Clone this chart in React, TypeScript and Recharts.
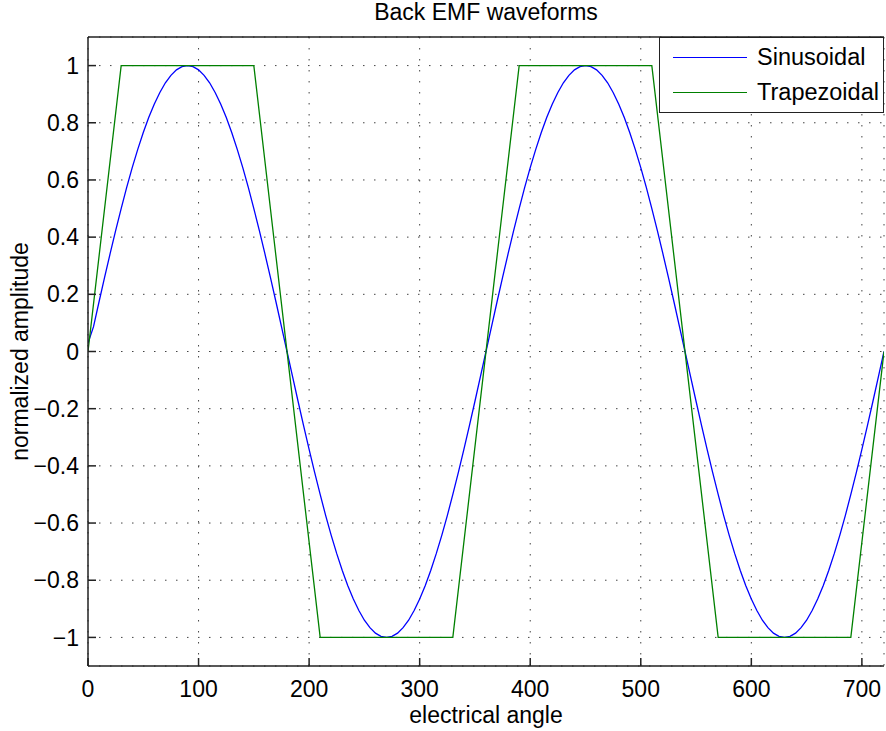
import { CartesianGrid, Legend, Line, LineChart, XAxis, YAxis } from "recharts";

// sampled every 5 degrees
const angles = [
  0, 5, 10, 15, 20, 25, 30, 35, 40, 45, 50, 55, 60, 65, 70, 75, 80, 85,
  90, 95, 100, 105, 110, 115, 120, 125, 130, 135, 140, 145, 150, 155, 160, 165, 170, 175,
  180, 185, 190, 195, 200, 205, 210, 215, 220, 225, 230, 235, 240, 245, 250, 255, 260, 265,
  270, 275, 280, 285, 290, 295, 300, 305, 310, 315, 320, 325, 330, 335, 340, 345, 350, 355,
  360, 365, 370, 375, 380, 385, 390, 395, 400, 405, 410, 415, 420, 425, 430, 435, 440, 445,
  450, 455, 460, 465, 470, 475, 480, 485, 490, 495, 500, 505, 510, 515, 520, 525, 530, 535,
  540, 545, 550, 555, 560, 565, 570, 575, 580, 585, 590, 595, 600, 605, 610, 615, 620, 625,
  630, 635, 640, 645, 650, 655, 660, 665, 670, 675, 680, 685, 690, 695, 700, 705, 710, 715,
  720,
];

const sinusoidal = [
  0.03, 0.087, 0.174, 0.259, 0.342, 0.423, 0.5, 0.574, 0.643, 0.707, 0.766, 0.819, 0.866, 0.906, 0.94, 0.966, 0.985, 0.996,
  1.0, 0.996, 0.985, 0.966, 0.94, 0.906, 0.866, 0.819, 0.766, 0.707, 0.643, 0.574, 0.5, 0.423, 0.342, 0.259, 0.174, 0.087,
  0, -0.087, -0.174, -0.259, -0.342, -0.423, -0.5, -0.574, -0.643, -0.707, -0.766, -0.819, -0.866, -0.906, -0.94, -0.966, -0.985, -0.996,
  -1.0, -0.996, -0.985, -0.966, -0.94, -0.906, -0.866, -0.819, -0.766, -0.707, -0.643, -0.574, -0.5, -0.423, -0.342, -0.259, -0.174, -0.087,
  0, 0.087, 0.174, 0.259, 0.342, 0.423, 0.5, 0.574, 0.643, 0.707, 0.766, 0.819, 0.866, 0.906, 0.94, 0.966, 0.985, 0.996,
  1.0, 0.996, 0.985, 0.966, 0.94, 0.906, 0.866, 0.819, 0.766, 0.707, 0.643, 0.574, 0.5, 0.423, 0.342, 0.259, 0.174, 0.087,
  0, -0.087, -0.174, -0.259, -0.342, -0.423, -0.5, -0.574, -0.643, -0.707, -0.766, -0.819, -0.866, -0.906, -0.94, -0.966, -0.985, -0.996,
  -1.0, -0.996, -0.985, -0.966, -0.94, -0.906, -0.866, -0.819, -0.766, -0.707, -0.643, -0.574, -0.5, -0.423, -0.342, -0.259, -0.174, -0.087,
  0,
];

const trapAngles = [0, 30, 150, 210, 330, 390, 510, 570, 690, 720];
const trapezoidal = [0, 1, 1, -1, -1, 1, 1, -1, -1, 0];

const xTicks = [0, 100, 200, 300, 400, 500, 600, 700];
const yTicks = [-1, -0.8, -0.6, -0.4, -0.2, 0, 0.2, 0.4, 0.6, 0.8, 1];

const sineData = angles.map((a, i) => ({ angle: a, value: sinusoidal[i] }));
const trapData = trapAngles.map((a, i) => ({ angle: a, value: trapezoidal[i] }));

const FONT = "'Liberation Sans', Arial, Helvetica, sans-serif";
const tickStyle = { fontSize: 23, fill: "#000", fontFamily: FONT };
const fmtY = (v: number) => (v < 0 ? "\u2212" + Math.abs(v) : String(v));

function LegendBox() {
  const rows = [
    { name: "Sinusoidal", color: "#0000ff" },
    { name: "Trapezoidal", color: "#008000" },
  ];
  return (
    <div
      style={{
        width: 225,
        height: 76,
        boxSizing: "border-box",
        border: "1.5px solid #222",
        background: "#fff",
        fontFamily: FONT,
        fontSize: 23.5,
        color: "#000",
        position: "relative",
      }}
    >
      {rows.map((r, i) => (
        <div
          key={r.name}
          style={{
            position: "absolute",
            left: 13,
            top: 19 + i * 35 - 14,
            height: 28,
            display: "flex",
            alignItems: "center",
          }}
        >
          <div style={{ width: 74, height: 0, borderTop: `1.3px solid ${r.color}` }} />
          <span style={{ marginLeft: 10, lineHeight: "28px" }}>{r.name}</span>
        </div>
      ))}
    </div>
  );
}

export default function App() {
  return (
    <div style={{ position: "absolute", left: 0, top: 0, width: 886, height: 731, background: "#fff", fontFamily: FONT }}>
      <LineChart width={886} height={731} margin={{ top: 0, right: 2, bottom: 0, left: 0 }}>
        <CartesianGrid stroke="#444" strokeDasharray="1.5 9.5" strokeWidth={1} />
        <XAxis
          dataKey="angle"
          type="number"
          domain={[0, 720]}
          ticks={xTicks}
          allowDataOverflow
          height={65}
          tickSize={-8}
          tickMargin={23}
          tick={tickStyle}
          stroke="#222"
          strokeWidth={1.5}
          label={{ value: "electrical angle", position: "insideBottom", offset: 8, style: { ...tickStyle } }}
        />
        <XAxis
          xAxisId="top"
          orientation="top"
          dataKey="angle"
          type="number"
          domain={[0, 720]}
          ticks={xTicks}
          height={37}
          tickSize={-8}
          tick={false}
          stroke="#222"
          strokeWidth={1.5}
          label={{ value: "Back EMF waveforms", position: "insideTop", offset: 4, style: { ...tickStyle } }}
        />
        <YAxis
          type="number"
          domain={[-1.1, 1.1]}
          ticks={yTicks}
          allowDataOverflow
          width={88}
          tickSize={-8}
          tickMargin={17}
          tick={tickStyle}
          tickFormatter={fmtY}
          stroke="#222"
          strokeWidth={1.5}
          label={{
            value: "normalized amplitude",
            position: "insideLeft",
            angle: -90,
            offset: 20,
            style: { ...tickStyle, textAnchor: "middle" },
          }}
        />
        <YAxis
          yAxisId="right"
          orientation="right"
          type="number"
          domain={[-1.1, 1.1]}
          ticks={yTicks}
          width={0}
          tickSize={-8}
          tick={false}
          stroke="#222"
          strokeWidth={1.5}
        />
        <Line
          data={sineData}
          dataKey="value"
          name="Sinusoidal"
          type="linear"
          stroke="#0000ff"
          strokeWidth={1.3}
          dot={false}
          isAnimationActive={false}
        />
        <Line
          data={trapData}
          dataKey="value"
          name="Trapezoidal"
          type="linear"
          stroke="#008000"
          strokeWidth={1.3}
          dot={false}
          isAnimationActive={false}
        />
        <Legend
          layout="vertical"
          align="center"
          verticalAlign="middle"
          content={() => <LegendBox />}
          wrapperStyle={{ top: 37, left: 659, width: 225, height: 76 }}
        />
      </LineChart>
    </div>
  );
}
